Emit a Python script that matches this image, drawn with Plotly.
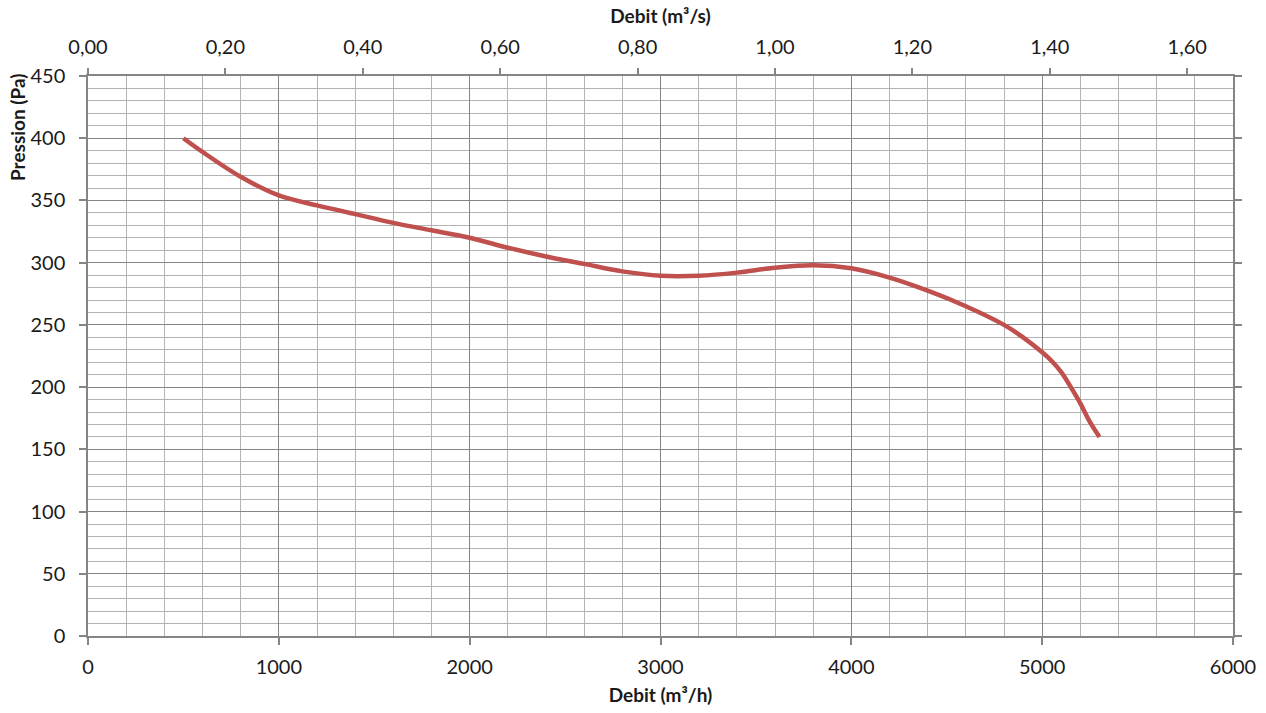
import plotly.graph_objects as go

# Data
debit_m3h = [500, 600, 800, 1000, 1200, 1400, 1600, 1800, 2000, 2200, 2400, 2600,
             2800, 3000, 3200, 3400, 3600, 3800, 4000, 4200, 4400, 4600, 4800,
             4900, 5000, 5050, 5100, 5150, 5200, 5250, 5300]
pression_pa = [400, 389, 369, 354, 346, 339, 332, 326, 320, 312, 305, 299,
               293, 289.5, 289.5, 292, 296, 298, 295.5, 288, 277.5, 265, 250,
               240, 228, 221, 212, 200, 187, 172, 160]

x_range_m3h = [0, 6000]
y_range_pa = [0, 450]
debit_m3s = [v / 3600 for v in debit_m3h]

FONT = "Lato, 'Noto Sans', sans-serif"
MAJOR = "#858585"
MINOR = "#b3b3b3"
TXT = "#1a1a1a"

fig = go.Figure()
fig.add_trace(go.Scatter(
    x=debit_m3h, y=pression_pa, mode="lines",
    line=dict(color="#C0504D", width=4.5, shape="spline", smoothing=1.0),
    showlegend=False, hoverinfo="x+y"))
# invisible companion trace so the top (m3/s) axis is drawn
fig.add_trace(go.Scatter(
    x=debit_m3s, y=pression_pa, mode="lines", xaxis="x2",
    line=dict(color="rgba(0,0,0,0)", width=0),
    showlegend=False, hoverinfo="skip"))

fig.update_layout(
    width=1266, height=713,
    margin=dict(l=88, r=33, t=76, b=77),
    paper_bgcolor="white", plot_bgcolor="white",
    separators=", ",
    font=dict(family=FONT, size=20, color=TXT),
    xaxis=dict(
        range=x_range_m3h, dtick=1000, tick0=0, automargin=False,
        showgrid=True, gridcolor=MAJOR, gridwidth=1.3,
        minor=dict(dtick=200, showgrid=True, gridcolor=MINOR, gridwidth=1.2,
                   ticks=""),
        showline=True, linecolor=MAJOR, linewidth=1.5, mirror=False,
        ticks="outside", ticklen=7, tickcolor=MAJOR, tickwidth=1.5,
        ticklabelstandoff=5,
        zeroline=False,
        title=dict(text="<b>Debit (m³/h)</b>", font=dict(size=19, color=TXT),
                   standoff=12),
        tickfont=dict(size=20, color=TXT),
    ),
    xaxis2=dict(
        overlaying="x", side="top", anchor="y", automargin=False,
        range=[x_range_m3h[0] / 3600, x_range_m3h[1] / 3600],
        dtick=0.2, tick0=0, tickformat=".2f",
        showgrid=False, zeroline=False,
        showline=True, linecolor=MAJOR, linewidth=1.5,
        ticks="outside", ticklen=6, tickcolor=MAJOR, tickwidth=1.5,
        ticklabelstandoff=6,
        title=dict(text="<b>Debit (m³/s)</b>", font=dict(size=19, color=TXT),
                   standoff=6),
        tickfont=dict(size=20, color=TXT),
    ),
    yaxis=dict(
        range=y_range_pa, dtick=50, tick0=0, automargin=False,
        showgrid=True, gridcolor=MAJOR, gridwidth=1.3,
        minor=dict(dtick=10, showgrid=True, gridcolor=MINOR, gridwidth=1.2,
                   ticks=""),
        showline=True, linecolor=MAJOR, linewidth=1.5, mirror="ticks",
        ticks="outside", ticklen=7, tickcolor=MAJOR, tickwidth=1.5,
        ticklabelstandoff=10,
        zeroline=False,
        tickfont=dict(size=20, color=TXT),
    ),
    annotations=[dict(
        text="<b>Pression (Pa)</b>", textangle=-90,
        xref="paper", yref="paper",
        x=(17 - 88) / 1145, xanchor="center",
        y=1.0 + 5 / 560, yanchor="top",
        showarrow=False, font=dict(size=19, color=TXT, family=FONT),
    )],
)

fig.write_html("out.html", config={"displayModeBar": False},
               post_script="document.body.style.margin='0';")
